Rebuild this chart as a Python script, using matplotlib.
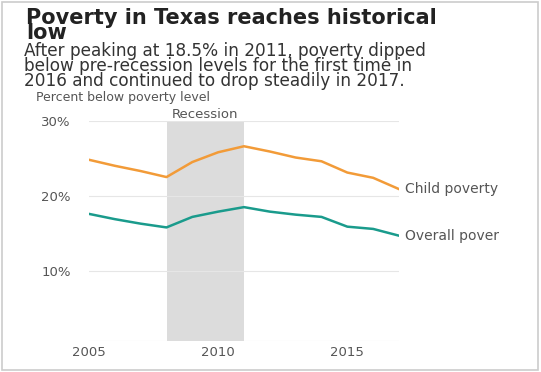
import numpy as np
import matplotlib.pyplot as plt
from matplotlib.patches import Rectangle

# Daten
years = np.arange(2005, 2018)
child = [24.8, 24.0, 23.3, 22.5, 24.5, 25.8, 26.6, 25.9, 25.1, 24.6, 23.1, 22.4, 20.9]
overall = [17.6, 16.9, 16.3, 15.8, 17.2, 17.9, 18.5, 17.9, 17.5, 17.2, 15.9, 15.6, 14.7]
recession = (2008, 2011)
yticks = [10, 20, 30]
xticks = [2005, 2010, 2015]

title = 'Poverty in Texas reaches historical\nlow'
subtitle = ('After peaking at 18.5% in 2011, poverty dipped\n'
            'below pre-recession levels for the first time in\n'
            '2016 and continued to drop steadily in 2017.')

plt.rcParams['font.family'] = ['DejaVu Sans']

fig = plt.figure(figsize=(5.41, 3.72), dpi=100)
ax = fig.add_axes([89 / 541, 31.4 / 372, 310 / 541, 219.9 / 372])

ax.axvspan(*recession, color='#dcdcdc', lw=0, zorder=0)
for t in yticks:
    ax.axhline(t, color='#e6e6e6', lw=0.8, zorder=1)
ax.axhline(0.74, color='#e6e6e6', lw=0.8, zorder=1)

ax.plot(years, child, color='#f29b38', lw=1.8, zorder=3)
ax.plot(years, overall, color='#1a9b8c', lw=1.8, zorder=3)

ax.set_xlim(2005, 2017)
ax.set_ylim(0.74, 30)
for s in ax.spines.values():
    s.set_visible(False)
ax.set_yticks(yticks)
ax.set_yticklabels([f'{t}%' for t in yticks])
ax.set_xticks(xticks)
ax.tick_params(length=0, labelsize=9.5, colors='#555555')
ax.tick_params(axis='y', pad=13)
ax.tick_params(axis='x', pad=4)

ax.text(2009.5, 30.35, 'Recession', ha='center', va='baseline', fontsize=9.5, color='#555555')
ax.text(2017.25, child[-1], 'Child poverty', ha='left', va='center',
        fontsize=10, color='#555555', clip_on=False)
ax.text(2017.25, overall[-1], 'Overall pover', ha='left', va='center',
        fontsize=10, color='#555555', clip_on=False)

fig.text(26 / 541, 1 - 8 / 372, title, ha='left', va='top',
         fontsize=15, fontweight='bold', color='#222222', linespacing=0.68)
fig.text(24 / 541, 1 - 42 / 372, subtitle, ha='left', va='top',
         fontsize=12.2, color='#333333', linespacing=0.8)
fig.text(36 / 541, 1 - 101 / 372, 'Percent below poverty level',
         ha='left', va='baseline', fontsize=9, color='#555555')

fig.patches.append(Rectangle((2 / 541, 2 / 372), 536 / 541, 368 / 372,
                             transform=fig.transFigure, fill=False,
                             edgecolor='#cccccc', lw=1.2))

fig.savefig('out.png', dpi=100)
